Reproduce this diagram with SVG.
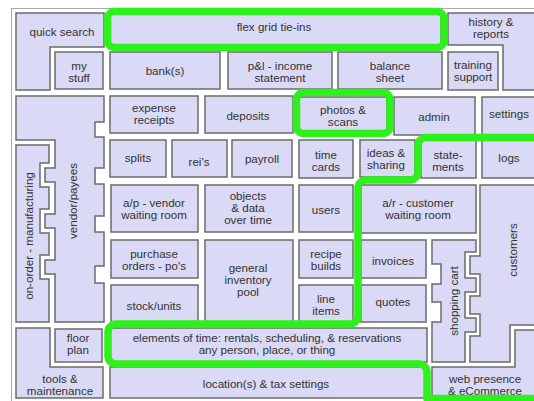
<svg xmlns="http://www.w3.org/2000/svg" width="534" height="401" viewBox="0 0 534 401">
<style>
.n{fill:#dadaf6;stroke:#6b6b6b;stroke-width:1.5}
.t{font-family:"Liberation Sans",Arial,sans-serif;font-size:11.6px;fill:#333;text-anchor:middle}
.g{fill:none;stroke:#2ef01c;stroke-width:7.5;stroke-linejoin:round}
</style>
<rect x="0" y="0" width="534" height="401" fill="#fff"/>
<rect x="11.5" y="8.5" width="540" height="400" fill="#fff" stroke="#aaa" stroke-width="1"/>
<g id="quick-search"><path class="n" d="M16,13H104V47H50V90H16Z"/><text class="t" x="62" y="36">quick search</text></g>
<g id="flex-grid"><rect class="n" x="110" y="14" width="331" height="31"/><text class="t" x="274" y="31">flex grid tie-ins</text></g>
<g id="history-reports"><path class="n" d="M448,13H545V90H503V45H448Z"/><text class="t" x="491" y="26">history &amp;</text><text class="t" x="491" y="38">reports</text></g>
<g id="my-stuff"><rect class="n" x="55" y="52" width="48" height="37"/><text class="t" x="79" y="70">my</text><text class="t" x="79" y="82">stuff</text></g>
<g id="banks"><rect class="n" x="110" y="52" width="110" height="37"/><text class="t" x="165" y="75">bank(s)</text></g>
<g id="pl"><rect class="n" x="228" y="52" width="104" height="37"/><text class="t" x="280" y="70">p&amp;l - income</text><text class="t" x="280" y="82">statement</text></g>
<g id="balance"><rect class="n" x="338" y="52" width="104" height="37"/><text class="t" x="390" y="70">balance</text><text class="t" x="390" y="82">sheet</text></g>
<g id="training"><rect class="n" x="448" y="52" width="50" height="38"/><text class="t" x="473" y="69">training</text><text class="t" x="473" y="81">support</text></g>
<g id="vendor-payees"><path class="n" d="M16,96H104V122H95V137H104V168H95V184H104V216H95V232H104V266H95V283H104V322H55V274H45V260H55V228H45V214H55V182H45V168H55V140H16Z"/><text class="t" transform="translate(77,201) rotate(-90)">vendor/payees</text></g>
<g id="on-order"><path class="n" d="M16,145H49V163H40V187H49V209H40V233H49V255H40V279H49V322H16Z"/><text class="t" transform="translate(33,236) rotate(-90)">on-order - manufacturing</text></g>
<g id="expense"><rect class="n" x="110" y="96" width="88" height="37"/><text class="t" x="154" y="112">expense</text><text class="t" x="154" y="124">receipts</text></g>
<g id="deposits"><rect class="n" x="205" y="96" width="88" height="37"/><text class="t" x="248" y="120">deposits</text></g>
<g id="photos"><rect class="n" x="299" y="97" width="88" height="35"/><text class="t" x="343" y="114">photos &amp;</text><text class="t" x="343" y="126">scans</text></g>
<g id="admin"><rect class="n" x="394" y="97" width="81" height="38"/><text class="t" x="434" y="121">admin</text></g>
<g id="settings"><rect class="n" x="482" y="97" width="60" height="38"/><text class="t" x="509" y="118">settings</text></g>
<g id="splits"><rect class="n" x="110" y="140" width="56" height="37"/><text class="t" x="138" y="162">splits</text></g>
<g id="reis"><rect class="n" x="172" y="140" width="55" height="37"/><text class="t" x="199" y="166">rei's</text></g>
<g id="payroll"><rect class="n" x="232" y="140" width="60" height="37"/><text class="t" x="262" y="163">payroll</text></g>
<g id="time-cards"><rect class="n" x="299" y="140" width="54" height="38"/><text class="t" x="326" y="159">time</text><text class="t" x="326" y="171">cards</text></g>
<g id="ideas"><rect class="n" x="360" y="140" width="55" height="37"/><text class="t" x="386" y="157">ideas &amp;</text><text class="t" x="386" y="169">sharing</text></g>
<g id="statements"><rect class="n" x="421" y="140" width="55" height="38"/><text class="t" x="448" y="159">state-</text><text class="t" x="448" y="171">ments</text></g>
<g id="logs"><rect class="n" x="482" y="140" width="60" height="38"/><text class="t" x="509" y="162">logs</text></g>
<g id="ap"><rect class="n" x="111" y="185" width="87" height="47"/><text class="t" x="154" y="207">a/p - vendor</text><text class="t" x="154" y="219">waiting room</text></g>
<g id="objects"><rect class="n" x="205" y="185" width="88" height="47"/><text class="t" x="248" y="200">objects</text><text class="t" x="248" y="212">&amp; data</text><text class="t" x="248" y="224">over time</text></g>
<g id="users"><rect class="n" x="299" y="185" width="54" height="47"/><text class="t" x="326" y="214">users</text></g>
<g id="ar"><rect class="n" x="361" y="185" width="115" height="48"/><text class="t" x="418" y="207">a/r - customer</text><text class="t" x="418" y="219">waiting room</text></g>
<g id="customers"><path class="n" d="M480,185H545V325H510V362H470V336H480V314H470V296H480V274H470V256H480Z"/><text class="t" transform="translate(517,250) rotate(-90)">customers</text></g>
<g id="purchase"><rect class="n" x="111" y="240" width="87" height="38"/><text class="t" x="154" y="258">purchase</text><text class="t" x="154" y="270">orders - po's</text></g>
<g id="general"><rect class="n" x="205" y="240" width="88" height="85"/><text class="t" x="248" y="272">general</text><text class="t" x="248" y="284">inventory</text><text class="t" x="248" y="296">pool</text></g>
<g id="recipe"><rect class="n" x="299" y="240" width="54" height="38"/><text class="t" x="326" y="258">recipe</text><text class="t" x="326" y="270">builds</text></g>
<g id="invoices"><rect class="n" x="361" y="240" width="65" height="38"/><text class="t" x="393" y="265">invoices</text></g>
<g id="shopping-cart"><path class="n" d="M432,240H476V252H465V278H476V292H465V318H476V332H465V362H432V322H441V302H432V284H441V264H432Z"/><text class="t" transform="translate(458,301) rotate(-90)">shopping cart</text></g>
<g id="stock"><rect class="n" x="111" y="285" width="87" height="40"/><text class="t" x="154" y="310">stock/units</text></g>
<g id="line-items"><rect class="n" x="299" y="285" width="54" height="38"/><text class="t" x="326" y="303">line</text><text class="t" x="326" y="315">items</text></g>
<g id="quotes"><rect class="n" x="361" y="285" width="65" height="37"/><text class="t" x="393" y="306">quotes</text></g>
<g id="floor-plan"><rect class="n" x="55" y="329" width="47" height="33"/><text class="t" x="78" y="342">floor</text><text class="t" x="78" y="354">plan</text></g>
<g id="tools"><path class="n" d="M16,328H50V367H103V398H16Z"/><text class="t" x="60" y="383">tools &amp;</text><text class="t" x="60" y="395">maintenance</text></g>
<g id="elements"><rect class="n" x="110" y="328" width="317" height="34"/><text class="t" x="267" y="342">elements of time: rentals, scheduling, &amp; reservations</text><text class="t" x="267" y="354">any person, place, or thing</text></g>
<g id="location"><rect class="n" x="110" y="367" width="317" height="31"/><text class="t" x="266" y="388">location(s) &amp; tax settings</text></g>
<g id="web-presence"><path class="n" d="M515,330H545V398H432V367H515Z"/><text class="t" x="485" y="383">web presence</text><text class="t" x="485" y="395">&amp; eCommerce</text></g>
<g id="connectors">
<rect class="g" x="107.5" y="11.5" width="336.5" height="36" rx="7"/>
<rect class="g" x="296.5" y="92.5" width="93.5" height="41" rx="7"/>
<path class="g" d="M545,137.5H426a8,8 0 0 0 -8,8V172a8,8 0 0 1 -8,8H366a8,8 0 0 0 -8,8V316a8,8 0 0 1 -8,8H116a8,8 0 0 0 -8,8V356a8,8 0 0 0 8,8H419a8,8 0 0 1 8,8V398.5H545"/>
</g>
</svg>
